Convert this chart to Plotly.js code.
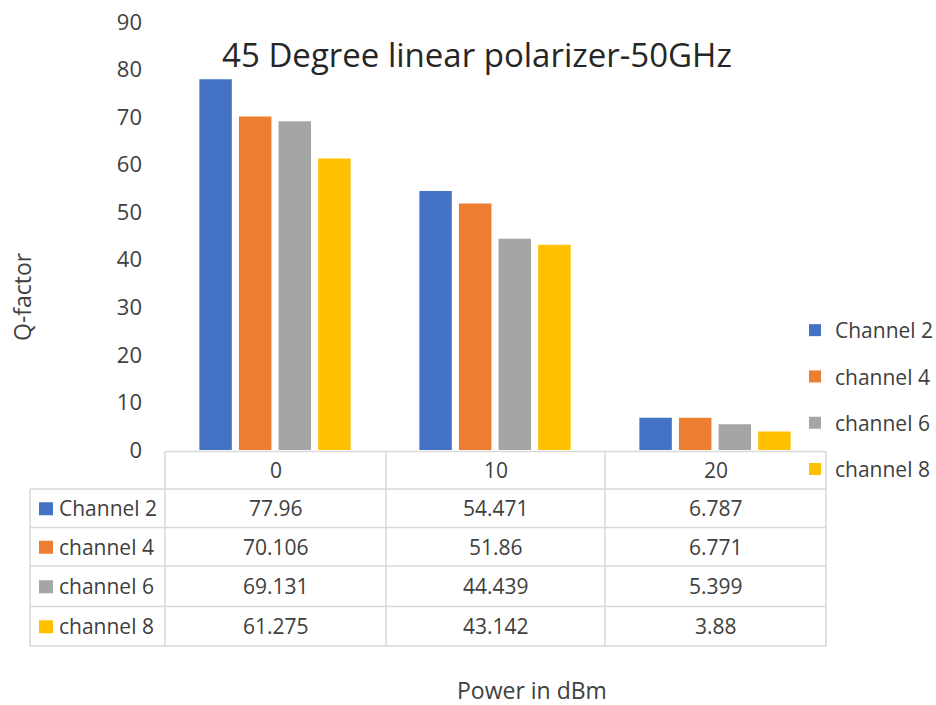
<!DOCTYPE html>
<html>
<head>
<meta charset="utf-8">
<script src="https://cdn.plot.ly/plotly-3.0.1.min.js"></script>
<style>html,body{margin:0;padding:0;background:#fff;}#chart{width:936px;height:705px;}</style>
</head>
<body>
<div id="chart"></div>
<script>
const categories = ['0', '10', '20'];
const seriesNames = ['Channel 2', 'channel 4', 'channel 6', 'channel 8'];
const channel2 = [77.96, 54.471, 6.787];
const channel4 = [70.106, 51.86, 6.771];
const channel6 = [69.131, 44.439, 5.399];
const channel8 = [61.275, 43.142, 3.88];
const seriesValues = [channel2, channel4, channel6, channel8];
const colors = ['#4472C4', '#ED7D31', '#A5A5A5', '#FFC000'];
const yTicks = [0, 10, 20, 30, 40, 50, 60, 70, 80, 90];

const FONT = '"Open Sans", "Noto Sans", sans-serif';
const TXT = '#404040';
const W = 936, H = 705;
const PL = 165, PR = 825, PT = 22, PB = 450;
const fx = p => (p - PL) / (PR - PL);
const fy = p => (PB - p) / (PB - PT);

const traces = seriesNames.map((n, i) => ({
  type: 'bar', name: n, x: categories, y: seriesValues[i],
  marker: {color: colors[i]}, legendgroup: 'g' + i, hoverinfo: 'x+y+name'
}));

const shapes = [];
const annotations = [];
const lineCol = '#d9d9d9';
const rowB = [451.5, 489, 527.5, 566, 606.5, 646];
const colB = [30, 165, 386, 605, 826];
function hline(y, x0, x1) {
  shapes.push({type: 'line', xref: 'paper', yref: 'paper', x0: fx(x0), x1: fx(x1), y0: fy(y), y1: fy(y), line: {color: lineCol, width: 1.5}});
}
function vline(x, y0, y1) {
  shapes.push({type: 'line', xref: 'paper', yref: 'paper', x0: fx(x), x1: fx(x), y0: fy(y0), y1: fy(y1), line: {color: lineCol, width: 1.5}});
}
hline(rowB[0], colB[1], colB[4]);
for (let r = 1; r < rowB.length; r++) hline(rowB[r], colB[0], colB[4]);
vline(colB[0], rowB[1], rowB[5]);
for (let c = 1; c < colB.length; c++) vline(colB[c], rowB[0], rowB[5]);

function txt(text, x, y, size, anchor, color, extra) {
  annotations.push(Object.assign({text: text, xref: 'paper', yref: 'paper', x: fx(x), y: fy(y), xanchor: anchor || 'center', yanchor: 'middle', showarrow: false, font: {family: FONT, size: size, color: color || TXT}}, extra || {}));
}
// header row
categories.forEach((c, j) => txt(c, (colB[j + 1] + colB[j + 2]) / 2, (rowB[0] + rowB[1]) / 2, 21));
// data rows
seriesNames.forEach((n, i) => {
  const yc = (rowB[i + 1] + rowB[i + 2]) / 2;
  shapes.push({type: 'rect', xref: 'paper', yref: 'paper', x0: fx(39), x1: fx(53), y0: fy(yc - 6), y1: fy(yc + 7), fillcolor: colors[i], line: {width: 0}});
  txt(n, 57, yc, 21, 'left');
  seriesValues[i].forEach((v, j) => txt(String(v), (colB[j + 1] + colB[j + 2]) / 2, yc, 21));
});
// axis titles
txt('Q-factor', 22, 297, 23, 'center', TXT, {textangle: -90});
txt('Power in dBm', 532, 690, 23, 'center', TXT);

const layout = {
  width: W, height: H,
  margin: {l: PL, r: W - PR, t: PT, b: H - PB, pad: 0, autoexpand: false},
  paper_bgcolor: '#fff', plot_bgcolor: '#fff',
  title: {text: '45 Degree linear polarizer-50GHz', x: 477 / W, xanchor: 'center', y: 1 - 55 / H, yanchor: 'middle', font: {family: FONT, size: 33, color: '#262626'}},
  barmode: 'group', bargap: 0.28, bargroupgap: 0.18,
  xaxis: {type: 'category', showticklabels: false, ticks: '', showgrid: false, zeroline: false, showline: false, automargin: false},
  yaxis: {range: [0, 90], tickvals: yTicks, ticktext: yTicks.map(String), showgrid: false, zeroline: false, showline: false, ticks: '', ticklabelstandoff: 22, automargin: false, tickfont: {family: FONT, size: 22, color: TXT}},
  showlegend: true,
  legend: {x: fx(795), xanchor: 'left', y: fy(310), yanchor: 'top', traceorder: 'grouped', tracegroupgap: 16, font: {family: FONT, size: 21, color: TXT}, bgcolor: 'rgba(0,0,0,0)'},
  shapes: shapes, annotations: annotations
};
Plotly.newPlot('chart', traces, layout, {displayModeBar: false, staticPlot: true});
</script>
</body>
</html>
